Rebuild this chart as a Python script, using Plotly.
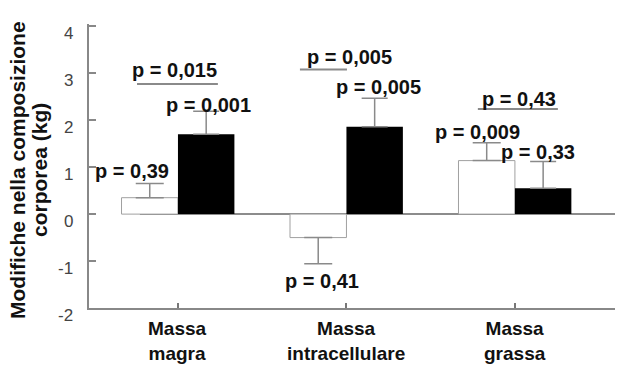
import plotly.graph_objects as go

# ---- data ----
groups = ["Massa magra", "Massa intracellulare", "Massa grassa"]
group_labels = ["Massa<br>magra", "Massa<br>intracellulare", "Massa<br>grassa"]
group_pos = [0, 1, 2]

white_vals = [0.35, -0.50, 1.14]
white_err_up = [0.30, 0.0, 0.38]
white_err_down = [0.0, 0.56, 0.0]

black_vals = [1.70, 1.86, 0.55]
black_err_up = [0.49, 0.61, 0.57]

y_ticks = [-2, -1, 0, 1, 2, 3, 4]

p_texts = ["p = 0,015", "p = 0,001", "p = 0,39", "p = 0,005", "p = 0,005",
           "p = 0,41", "p = 0,43", "p = 0,009", "p = 0,33"]
p_x = [-0.018, 0.184, -0.273, 1.021, 1.193, 0.855, 2.024, 1.78, 2.137]
p_y = [3.06, 2.32, 0.91, 3.34, 2.70, -1.42, 2.45, 1.75, 1.33]

# comparison underlines (x0, x1, y)
line_x0 = [-0.243, 0.724, 1.78]
line_x1 = [0.237, 1.003, 2.255]
line_y = [2.77, 3.08, 2.24]

BAR_W = 0.335
GRAY = "#8a8a8a"
FONT = "Liberation Sans, Arial, sans-serif"

fig = go.Figure()
fig.add_trace(go.Bar(
    x=group_pos, y=white_vals, width=BAR_W, offset=-BAR_W,
    marker=dict(color="white", line=dict(color="#a0a0a0", width=1)),
    error_y=dict(type="data", symmetric=False, array=white_err_up,
                 arrayminus=white_err_down, color=GRAY, thickness=1.5, width=14),
    showlegend=False,
))
fig.add_trace(go.Bar(
    x=group_pos, y=black_vals, width=BAR_W, offset=0,
    marker=dict(color="black", line=dict(color="black", width=0)),
    error_y=dict(type="data", symmetric=False, array=black_err_up,
                 arrayminus=[0] * 3, color=GRAY, thickness=1.5, width=13),
    showlegend=False,
))

# zero line
fig.add_shape(type="line", xref="x", yref="y", x0=-0.226, x1=2.594, y0=0, y1=0,
              line=dict(color="#666", width=1.5), layer="below")

# comparison lines
for x0, x1, y in zip(line_x0, line_x1, line_y):
    fig.add_shape(type="line", xref="x", yref="y", x0=x0, x1=x1, y0=y, y1=y,
                  line=dict(color=GRAY, width=2))

annotations = []
for t, x, y in zip(p_texts, p_x, p_y):
    annotations.append(dict(text="<b>%s</b>" % t, x=x, y=y, xref="x", yref="y",
                            showarrow=False,
                            font=dict(family=FONT, size=20, color="#111"),
                            xanchor="center", yanchor="middle"))

# y tick labels (slightly below tick marks like the scan)
for v in y_ticks:
    annotations.append(dict(text=str(v), x=0, y=v, xref="paper", yref="y",
                            showarrow=False, xanchor="right", yanchor="middle",
                            xshift=-14, yshift=-7,
                            font=dict(family=FONT, size=17, color="#444")))

# x category labels
for xp, lab in zip(group_pos, group_labels):
    annotations.append(dict(text="<b>%s</b>" % lab, x=xp, y=0, xref="x", yref="paper",
                            showarrow=False, xanchor="center", yanchor="middle",
                            yshift=-33, font=dict(family=FONT, size=19, color="#111")))

# y title (two lines)
annotations.append(dict(text="<b>Modifiche nella composizione</b>", x=0, y=0.486,
                        xref="paper", yref="paper", showarrow=False, textangle=-90,
                        xanchor="center", yanchor="middle", xshift=-71,
                        font=dict(family=FONT, size=21, color="#111")))
annotations.append(dict(text="<b>corporea (kg)</b>", x=0, y=0.486,
                        xref="paper", yref="paper", showarrow=False, textangle=-90,
                        xanchor="center", yanchor="middle", xshift=-49,
                        font=dict(family=FONT, size=21, color="#111")))

fig.update_layout(
    width=625, height=365,
    margin=dict(l=89, r=10, t=24, b=57),
    paper_bgcolor="white", plot_bgcolor="white",
    barmode="overlay",
    annotations=annotations,
    xaxis=dict(range=[-0.528, 2.594], tickvals=group_pos, showticklabels=False,
               ticks="inside", ticklen=5, tickcolor="#777", tickwidth=1.5,
               showline=True, linecolor="#888", linewidth=2,
               showgrid=False, zeroline=False, fixedrange=True),
    yaxis=dict(range=[-2, 4.05], tickvals=y_ticks, showticklabels=False,
               ticks="inside", ticklen=7, tickcolor="#888", tickwidth=1.5,
               showline=True, linecolor="#888", linewidth=2,
               showgrid=False, zeroline=False, fixedrange=True),
)

fig.write_html("out.html")
